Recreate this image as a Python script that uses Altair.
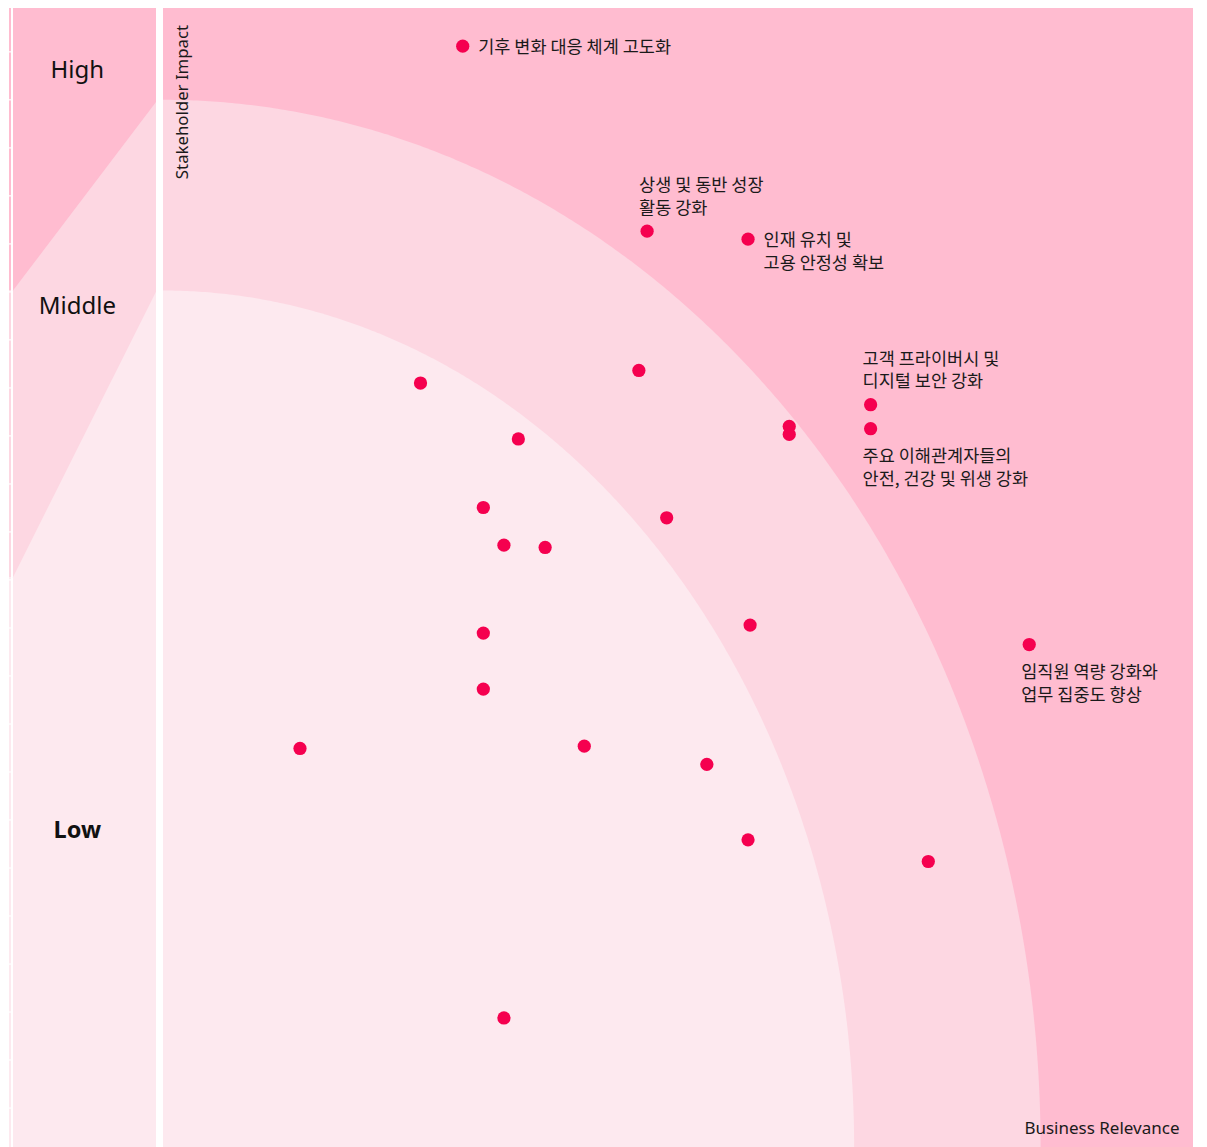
import altair as alt
import pandas as pd

# ---------------- data ----------------
# Business relevance (x) and stakeholder impact (y), both on a 0-10 scale
business = [2.91, 4.70, 5.68, 4.62, 2.50, 6.87, 6.87, 6.08, 6.08, 3.45, 3.11, 4.89,
            3.31, 3.71, 5.70, 8.41, 3.11, 3.11, 1.33, 4.09, 5.28, 5.68, 7.43, 3.31]
impact = [9.64, 8.02, 7.95, 6.80, 6.69, 6.50, 6.29, 6.31, 6.24, 6.20, 5.60, 5.51,
          5.27, 5.25, 4.57, 4.40, 4.50, 4.01, 3.49, 3.51, 3.35, 2.69, 2.50, 1.13]
labels = ["기후 변화 대응 체계 고도화", "상생 및 동반 성장\n활동 강화", "인재 유치 및\n고용 안정성 확보",
          "", "", "고객 프라이버시 및\n디지털 보안 강화", "주요 이해관계자들의\n안전, 건강 및 위생 강화",
          "", "", "", "", "", "", "", "", "임직원 역량 강화와\n업무 집중도 향상",
          "", "", "", "", "", "", "", ""]
placement = ["right", "above", "right", "", "", "above", "below", "", "", "", "", "",
             "", "", "", "below", "", "", "", "", "", "", "", ""]

# zone boundaries (quarter ellipses anchored at the origin): semi-axes (x, y)
outer_zone = (8.52, 9.17)
inner_zone = (6.71, 7.50)

# legend panel: zone edges at its left / right side
legend_high_edge = [7.50, 9.15]
legend_mid_edge = [4.99, 7.49]
levels = ["High", "Middle", "Low"]
level_y = [9.42, 7.36, 2.77]

DARK = "#FFBCD0"
MID = "#FDD7E2"
LIGHT = "#FDE9EF"
DOT = "#F5004F"
INK = "#1a1a1a"

W, H = 1030, 1139
Y_TOP = 9.974  # visible top of the (cropped) panel

df = pd.DataFrame({"business": business, "impact": impact,
                   "label": labels, "placement": placement})

XS = alt.Scale(domain=[0, 10], nice=False, zero=False)
YS = alt.Scale(domain=[0, Y_TOP], nice=False, zero=False)

X_AXIS = alt.Axis(title="Business Relevance", labels=False, ticks=False, domain=False,
                  grid=False, zindex=1, titleX=1016, titleY=-13.5, titleAlign="right",
                  titleBaseline="alphabetic", titleFont="Noto Sans", titleFontSize=17,
                  titleFontWeight="normal", titleColor=INK)
Y_AXIS = alt.Axis(title="Stakeholder Impact", labels=False, ticks=False, domain=False,
                  grid=False, zindex=1, titleX=19.5, titleY=93.5, titleAngle=270,
                  titleAlign="center", titleBaseline="middle", titleFont="Noto Sans",
                  titleFontSize=16.8, titleFontWeight="normal", titleColor=INK)


def zone(ab, color):
    a, b = ab
    return alt.Chart(alt.sequence(0, 90.25, 0.25, as_="t")).transform_calculate(
        ex=f"{a}*cos(datum.t*PI/180)", ey=f"{b}*sin(datum.t*PI/180)"
    ).mark_area(color=color).encode(
        x=alt.X("ex:Q", scale=XS, axis=X_AXIS),
        y=alt.Y("ey:Q", scale=YS, axis=Y_AXIS),
        y2=alt.datum(0),
    )


base = alt.Chart(df)
pts = base.mark_circle(color=DOT, opacity=1, size=175).encode(
    x=alt.X("business:Q", scale=XS, axis=X_AXIS),
    y=alt.Y("impact:Q", scale=YS, axis=Y_AXIS),
)


def label_layer(where, dx, dy):
    return base.transform_filter(alt.datum.placement == where).mark_text(
        align="left", baseline="top", dx=dx, dy=dy, lineBreak="\n", lineHeight=22.5,
        font="Noto Sans CJK KR", fontSize=17.5, color=INK
    ).encode(
        x=alt.X("business:Q", scale=XS, axis=X_AXIS),
        y=alt.Y("impact:Q", scale=YS, axis=Y_AXIS),
        text="label:N",
    )


main = alt.layer(
    zone(outer_zone, MID),
    zone(inner_zone, LIGHT),
    pts,
    label_layer("right", 15.5, -7),
    label_layer("above", -8, -54),
    label_layer("below", -8, 19.5),
).properties(width=W, height=H, view=alt.ViewBackground(fill=DARK, strokeWidth=0))

# ---------------- legend panel (with the thin edge strip at its left) ----------------
# x: 0..1 is the legend panel, -0.028..-0.014 the thin strip
LS = alt.Scale(domain=[-0.028, 1], nice=False, zero=False)
edge_df = pd.DataFrame({"pos": [0, 1], "high": legend_high_edge, "mid": legend_mid_edge})
lev_df = pd.DataFrame({"level": levels, "y": level_y, "pos": [0.45, 0.45, 0.45]})
panel_df = pd.DataFrame({"x0": [0.0], "x1": [1.0], "y0": [0], "y1": [Y_TOP]})

strip_df = pd.DataFrame({"x0": [-0.028] * 3, "x1": [-0.014] * 3,
                         "lo": [legend_high_edge[0], legend_mid_edge[0], 0],
                         "hi": [Y_TOP, legend_high_edge[0], legend_mid_edge[0]],
                         "zone": levels})
grid_df = pd.DataFrame({"gy": [round(9.59 - 0.4204 * i, 3) for i in range(23)],
                        "x0": [-0.028] * 23, "x1": [-0.014] * 23})

legend_panel = alt.layer(
    alt.Chart(panel_df).mark_rect(color=DARK).encode(
        x=alt.X("x0:Q", scale=LS, axis=None), x2="x1:Q",
        y=alt.Y("y0:Q", scale=YS, axis=None), y2="y1:Q"),
    alt.Chart(edge_df).mark_area(color=MID).encode(
        x=alt.X("pos:Q", scale=LS, axis=None),
        y=alt.Y("high:Q", scale=YS, axis=None), y2=alt.datum(0)),
    alt.Chart(edge_df).mark_area(color=LIGHT).encode(
        x=alt.X("pos:Q", scale=LS, axis=None),
        y=alt.Y("mid:Q", scale=YS, axis=None), y2=alt.datum(0)),
    alt.Chart(strip_df).mark_rect().encode(
        x=alt.X("x0:Q", scale=LS, axis=None), x2="x1:Q",
        y=alt.Y("lo:Q", scale=YS, axis=None), y2="hi:Q",
        color=alt.Color("zone:N", scale=alt.Scale(domain=levels, range=[DARK, MID, LIGHT]),
                        legend=None)),
    alt.Chart(grid_df).mark_rule(color="white", strokeWidth=1.2).encode(
        x=alt.X("x0:Q", scale=LS, axis=None), x2="x1:Q",
        y=alt.Y("gy:Q", scale=YS, axis=None)),
    alt.Chart(lev_df).transform_filter(alt.datum.level != "Low").mark_text(
        font="Noto Sans", fontSize=24, color="#111111", align="center", baseline="middle"
    ).encode(
        x=alt.X("pos:Q", scale=LS, axis=None),
        y=alt.Y("y:Q", scale=YS, axis=None),
        text="level:N"),
    alt.Chart(lev_df).transform_filter(alt.datum.level == "Low").mark_text(
        font="Noto Sans", fontSize=23.5, fontWeight="bold", color="#111111",
        align="center", baseline="middle"
    ).encode(
        x=alt.X("pos:Q", scale=LS, axis=None),
        y=alt.Y("y:Q", scale=YS, axis=None),
        text="level:N"),
).properties(width=147, height=H)

chart = alt.hconcat(legend_panel, main, spacing=7, bounds="flush").properties(
    padding=0, background="white").configure_view(strokeWidth=0)

chart.save("out.html", embed_options={"renderer": "svg", "actions": False})
